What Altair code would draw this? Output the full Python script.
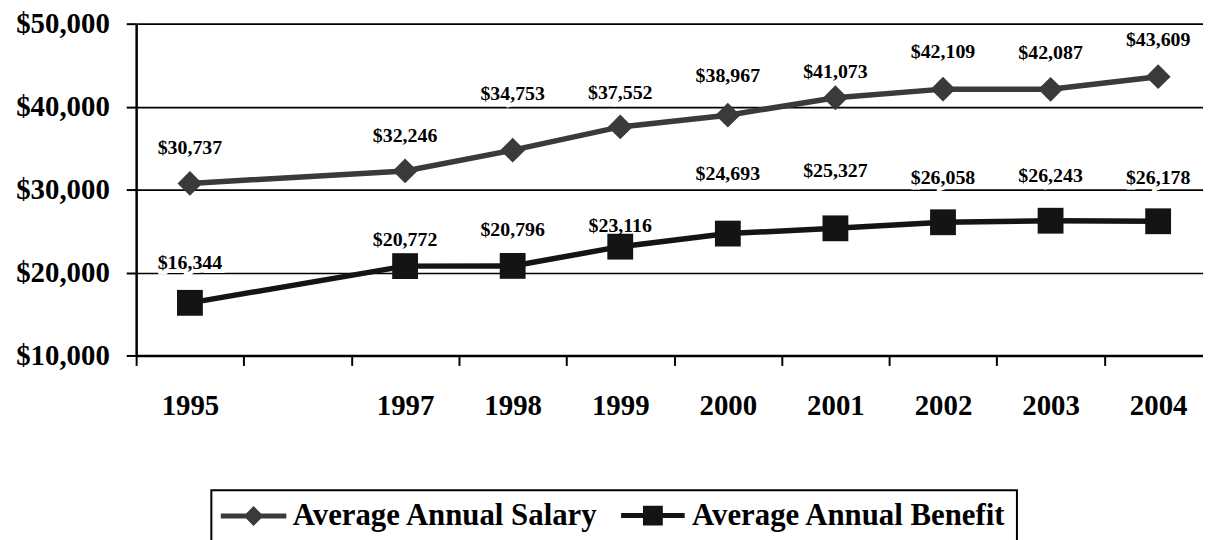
import altair as alt
import pandas as pd

# ---------------- data ----------------
years_all = ["1995", "1996", "1997", "1998", "1999", "2000", "2001", "2002", "2003", "2004"]
years = ["1995", "1997", "1998", "1999", "2000", "2001", "2002", "2003", "2004"]
salary = [30737, 32246, 34753, 37552, 38967, 41073, 42109, 42087, 43609]
benefit = [16344, 20772, 20796, 23116, 24693, 25327, 26058, 26243, 26178]
series_names = ["Average Annual Salary", "Average Annual Benefit"]
y_ticks = [10000, 20000, 30000, 40000, 50000]

# label placement (pixel offsets of each data label from its point)
salary_label_dy = [-36, -35, -56, -34, -39, -26, -37, -37, -37]
benefit_label_dy = [-40, -26, -36, -21, -60, -58, -45, -45, -44]

# ---------------- style ----------------
FONT = "Liberation Serif"
SAL_COLOR = "#3a3a3a"
BEN_COLOR = "#141414"
PLOT_H = 334
Y_MIN, Y_MAX = 10000, 50000
DIAMOND_LEGEND = "M-3.3,0L-0.65,0L0,-0.65L0.65,0L3.3,0L0.65,0L0,0.65L-0.65,0Z"
SQUARE_LEGEND = "M-3.2,0L-0.75,0L-0.75,-0.75L0.75,-0.75L0.75,0L3.2,0L0.75,0L0.75,0.75L-0.75,0.75L-0.75,0Z"

sal_df = pd.DataFrame({"year": years, "value": salary, "dy": salary_label_dy,
                       "series": series_names[0]})
ben_df = pd.DataFrame({"year": years, "value": benefit, "dy": benefit_label_dy,
                       "series": series_names[1]})
all_df = pd.concat([sal_df, ben_df], ignore_index=True)
legend_df = pd.DataFrame({"series": series_names})

x_enc = alt.X(
    "year:O",
    scale=alt.Scale(type="band", domain=years_all, range=[0, 1083],
                    paddingInner=0, paddingOuter=0),
    bandPosition=0.5,
    axis=alt.Axis(title=None, tickBand="extent", labelAngle=0,
                  labelExpr="datum.value == '1996' ? '' : datum.value",
                  labelFont=FONT, labelFontSize=29, labelFontWeight="bold",
                  labelColor="black", labelPadding=40, labelBaseline="middle",
                  tickSize=10, tickWidth=2, tickColor="black",
                  domainColor="black", domainWidth=2.5, grid=False),
)
y_scale = alt.Scale(domain=[Y_MIN, Y_MAX], nice=False, zero=False)
y_axis = alt.Axis(title=None, values=y_ticks, format="$,.0f",
                  labelFont=FONT, labelFontSize=29, labelFontWeight="bold",
                  labelColor="black", labelPadding=17,
                  tickSize=10, tickWidth=2, tickColor="black",
                  domainColor="black", domainWidth=2.5,
                  grid=True, gridColor="black", gridWidth=1.7)
y_enc = alt.Y("value:Q", scale=y_scale, axis=y_axis)
y_label_enc = alt.Y("label_y:Q", scale=y_scale, axis=y_axis)

text_enc = dict(
    x=x_enc, y=y_label_enc,
    text=alt.Text("value:Q", format="$,.0f"),
)
label_base = alt.Chart(all_df).transform_calculate(
    label_y=f"datum.value - datum.dy * {(Y_MAX - Y_MIN) / PLOT_H}"
)

halo = label_base.mark_text(
    font=FONT, fontSize=20, fontWeight="bold", baseline="middle",
    color="white", stroke="white", strokeWidth=8,
).encode(**text_enc)

sal_line = alt.Chart(sal_df).mark_line(color=SAL_COLOR, strokeWidth=5.5).encode(x=x_enc, y=y_enc)
ben_line = alt.Chart(ben_df).mark_line(color=BEN_COLOR, strokeWidth=5.5).encode(x=x_enc, y=y_enc)

sal_pts = alt.Chart(sal_df).mark_point(
    shape="diamond", size=625, filled=True, color=SAL_COLOR, opacity=1, strokeWidth=0
).encode(x=x_enc, y=y_enc)
ben_pts = alt.Chart(ben_df).mark_point(
    shape="square", size=676, filled=True, color=BEN_COLOR, opacity=1, strokeWidth=0
).encode(x=x_enc, y=y_enc)

labels = label_base.mark_text(
    font=FONT, fontSize=20, fontWeight="bold", baseline="middle", color="black",
).encode(**text_enc)

leg = alt.Legend(
    title=None, orient="none", legendX=75.7, legendY=469.7, direction="horizontal",
    padding=10, symbolOffset=17, labelOffset=24, columnPadding=12,
    symbolSize=400, symbolStrokeWidth=5,
    labelFont=FONT, labelFontSize=31, labelFontWeight="bold", labelColor="black",
    labelLimit=0, labelBaseline="middle", strokeColor="black",
)
legend_layer = alt.Chart(legend_df).transform_filter("false").mark_point(
    filled=True, opacity=1, size=400, strokeWidth=5
).encode(
    color=alt.Color("series:N", scale=alt.Scale(domain=series_names, range=[SAL_COLOR, BEN_COLOR]), legend=leg),
    stroke=alt.Stroke("series:N", scale=alt.Scale(domain=series_names, range=[SAL_COLOR, BEN_COLOR]), legend=leg),
    shape=alt.Shape("series:N", scale=alt.Scale(domain=series_names, range=[DIAMOND_LEGEND, SQUARE_LEGEND]), legend=leg),
)

chart = alt.layer(
    halo, sal_line, ben_line, sal_pts, ben_pts, labels, legend_layer
).properties(
    width=1074, height=PLOT_H,
    autosize=alt.AutoSizeParams(type="none"),
    padding={"left": 129, "top": 14, "right": 0, "bottom": 184},
).configure(
    font=FONT, background="white"
).configure_view(
    strokeWidth=0
).configure_legend(
    strokeWidth=2
)

chart.save("out.html", embed_options={"renderer": "svg", "actions": False})
